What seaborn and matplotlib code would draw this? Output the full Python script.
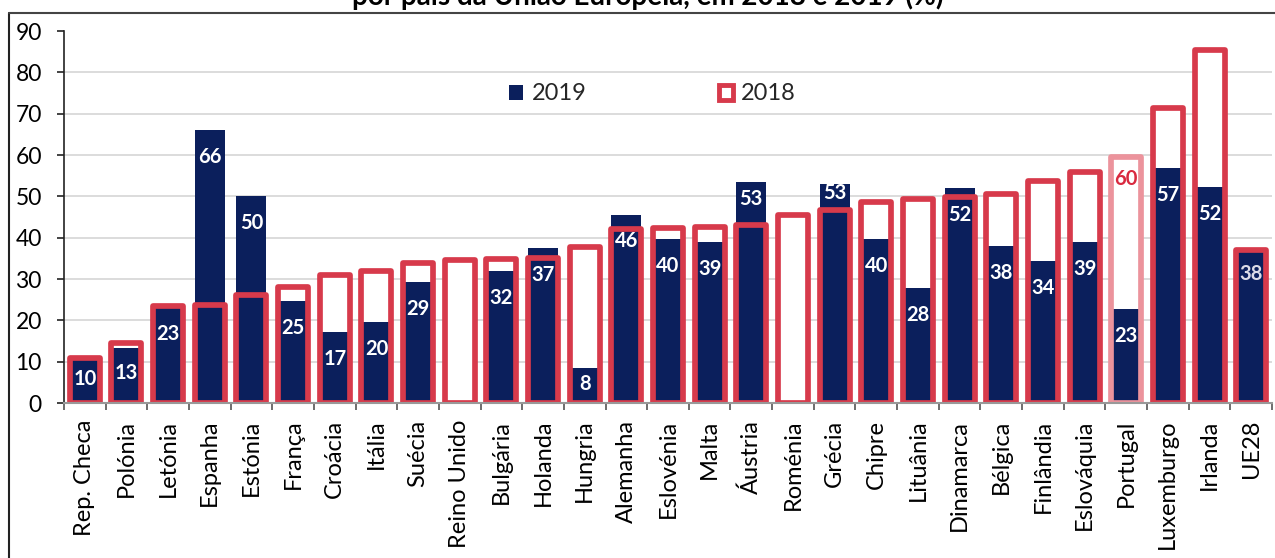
import numpy as np
import matplotlib
matplotlib.use("Agg")
import matplotlib.pyplot as plt
import seaborn as sns
from matplotlib.lines import Line2D
from matplotlib.patches import Patch

countries = ["Rep. Checa", "Polónia", "Letónia", "Espanha", "Estónia", "França", "Croácia",
             "Itália", "Suécia", "Reino Unido", "Bulgária", "Holanda", "Hungria", "Alemanha",
             "Eslovénia", "Malta", "Áustria", "Roménia", "Grécia", "Chipre", "Lituânia",
             "Dinamarca", "Bélgica", "Finlândia", "Eslováquia", "Portugal", "Luxemburgo",
             "Irlanda", "UE28"]
v2019 = [10.4, 13.3, 23.3, 66.0, 50.0, 24.7, 17.2, 19.6, 29.3, np.nan, 32.0, 37.4, 8.4, 45.6,
         39.7, 39.0, 53.4, np.nan, 53.0, 39.7, 27.8, 52.0, 38.0, 34.3, 39.0, 22.8, 56.9,
         52.3, 37.6]
v2018 = [10.9, 14.6, 23.5, 23.7, 26.2, 28.1, 31.0, 32.0, 33.8, 34.6, 34.9, 35.1, 37.8, 42.2,
         42.4, 42.6, 43.1, 45.6, 46.8, 48.7, 49.4, 49.8, 50.5, 53.6, 55.8, 59.6, 71.4,
         85.5, 37.1]
highlight = "Portugal"
title = "por país da União Europeia, em 2018 e 2019 (%)"

NAVY = "#0b1f5c"
RED = "#d73a4b"
LIGHT_RED = "#ec939c"

sns.set_style("white")
plt.rcParams["font.family"] = ["Lato", "DejaVu Sans"]

W, H = 1275, 558
fig = plt.figure(figsize=(W / 100, H / 100), dpi=100)
ax = fig.add_axes([64 / W, 1 - 403 / H, (1272 - 64) / W, (403 - 31) / H])

# 2018 white fill (hides gridlines inside the open bars)
sns.barplot(x=countries, y=v2018, order=countries, color="white", saturation=1,
            width=0.72, errorbar=None, linewidth=0, ax=ax, zorder=2)
# 2019 filled bars
sns.barplot(x=countries, y=v2019, order=countries, color=NAVY, saturation=1,
            width=0.72, errorbar=None, linewidth=0, ax=ax, zorder=3)
# 2018 outlines
sns.barplot(x=countries, y=v2018, order=countries, color=RED, saturation=1, fill=False,
            width=0.72, errorbar=None, linewidth=4.1, ax=ax, zorder=4)
outline = ax.containers[-1]
for c, p in zip(countries, outline.patches):
    p.set_facecolor("none")
    p.set_edgecolor(LIGHT_RED if c == highlight else RED)
    p.set_joinstyle("round")

# value labels 2019
for i, (c, v, o) in enumerate(zip(countries, v2019, v2018)):
    if np.isnan(v):
        continue
    y = max(v - 6.5, v * 0.55)
    if v - o > 5:
        y = max(y, (v + o) / 2 + 1)
    col = "#dcdce8" if c == "UE28" else "white"
    ax.text(i, y, f"{round(v):d}", ha="center", va="center", color=col,
            fontsize=14.5, fontweight="bold", zorder=6)
# highlighted 2018 label
ih = countries.index(highlight)
ax.text(ih, v2018[ih] - 5.5, f"{round(v2018[ih]):d}", ha="center", va="center",
        color="#d9293f", fontsize=14.5, fontweight="bold", zorder=6)

ax.set_ylim(0, 90)
ax.set_xlim(-0.5, len(countries) - 0.5)
ax.set_yticks(np.arange(0, 91, 10))
ax.set_ylabel("")
ax.set_xlabel("")
ax.yaxis.grid(True, color="#d9d9d9", linewidth=1.3, zorder=0)
ax.set_axisbelow(True)
gl = ax.yaxis.get_gridlines()
gl[0].set_visible(False)
gl[-1].set_visible(False)

for s in ["top", "right"]:
    ax.spines[s].set_visible(False)
ax.spines["left"].set_color("#222222")
ax.spines["left"].set_linewidth(1.2)
ax.spines["bottom"].set_color("#999999")
ax.spines["bottom"].set_linewidth(1.5)
ax.spines["bottom"].set_zorder(5)

ax.tick_params(axis="y", which="major", left=True, length=5, width=1.2, color="#222222",
               pad=11, labelsize=16.5, labelcolor="black")
ax.set_xticks(range(len(countries)))
ax.set_xticklabels(countries, rotation=90, fontsize=17)
ax.tick_params(axis="x", which="major", length=0, pad=12, labelcolor="black")
ax.set_xticks(np.arange(-0.5, len(countries), 1), minor=True)
ax.tick_params(axis="x", which="minor", bottom=True, length=5, width=1.2, color="#555555")

# legend
handles = [Patch(facecolor=NAVY, edgecolor=NAVY, linewidth=0),
           Patch(facecolor="white", edgecolor=RED, linewidth=3.5, joinstyle="round")]
ax.legend(handles, ["2019", "2018"], ncol=2, frameon=False, loc="center left",
          bbox_to_anchor=((509 - 64) / 1208, (403 - 94) / 372), fontsize=17,
          handlelength=0.6, handleheight=0.6, handletextpad=0.35, columnspacing=5.6,
          borderpad=0, borderaxespad=0)

# title (cut off at the top as in the reference)
fig.text(648 / W, 1 - 5 / H, title, ha="center", va="baseline", fontsize=20,
         fontweight="bold", color="black")

# outer frame lines
fig.add_artist(Line2D([9 / W, 9 / W], [0, 1 - 13 / H], transform=fig.transFigure,
                      color="#222222", linewidth=1.5))
fig.add_artist(Line2D([9 / W, 1], [1 - 13 / H, 1 - 13 / H], transform=fig.transFigure,
                      color="#444444", linewidth=1.5))

fig.savefig("out.png", dpi=100)
